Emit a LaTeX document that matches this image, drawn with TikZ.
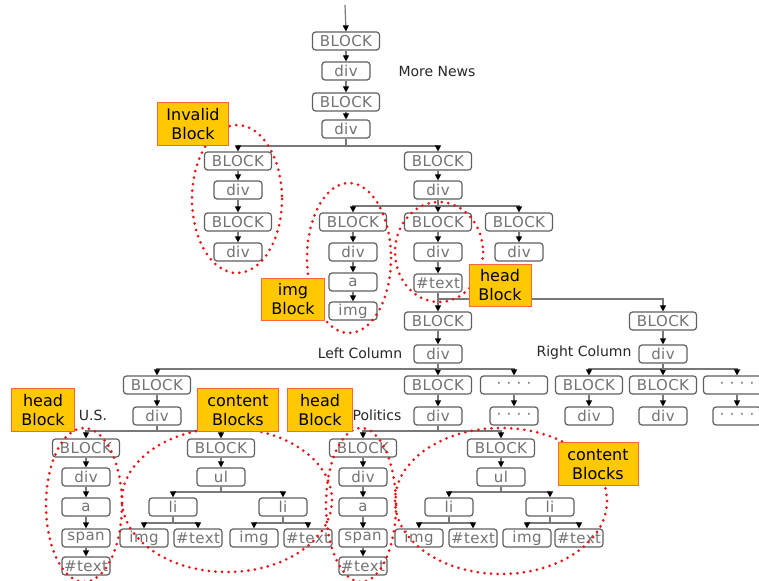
\documentclass[tikz,border=0pt]{standalone}
\usepackage{fontspec}
\usetikzlibrary{arrows.meta}
\newfontfamily\boxfont[LetterSpace=3]{DejaVu Sans}
\newfontfamily\labfont{DejaVu Sans}
\definecolor{boxline}{RGB}{95,95,95}
\definecolor{boxtext}{RGB}{115,115,115}
\definecolor{edgecol}{RGB}{120,120,120}
\definecolor{labfill}{RGB}{255,200,0}
\definecolor{labline}{RGB}{255,100,60}
\definecolor{dotred}{RGB}{235,20,20}
\tikzset{
  bx/.style={draw=boxline, line width=1.2pt, rounded corners=3pt, fill=white,
    minimum height=18pt, minimum width=48pt, inner sep=0pt, text=boxtext,
    font=\boxfont\fontsize{15}{16}\selectfont},
  bxw/.style={bx, minimum width=67pt},
  arr/.style={draw=edgecol, line width=1.2pt, -{Triangle[length=6pt,width=6pt,black]}},
  lab/.style={draw=labline, line width=1pt, fill=labfill, inner sep=0pt,
    align=center, font=\labfont\fontsize{16}{19}\selectfont, text=black},
  captxt/.style={font=\labfont\fontsize{14}{15}\selectfont, text=black!85},
  ring/.style={draw=dotred, line width=3pt, line cap=round, dash pattern=on 0pt off 6.6pt}
}
\begin{document}
\begin{tikzpicture}[x=1pt,y=-1pt]
\useasboundingbox (0,0) rectangle (759,580);
% ---------- top spine
\coordinate (top) at (345,5);
\node[bxw] (B1) at (346,41) {BLOCK};
\node[bx]  (d1) at (346,71) {div};
\node[bxw] (B2) at (346,102) {BLOCK};
\node[bx]  (d2) at (346,129) {div};
\node[captxt] (more) at (437,71) {More News};
% ---------- first split
\node[bxw] (L1) at (238,161) {BLOCK};
\node[bx]  (L2) at (238,190) {div};
\node[bxw] (L3) at (238,222) {BLOCK};
\node[bx]  (L4) at (238,252) {div};
\node[bxw] (R1) at (438,161) {BLOCK};
\node[bx]  (R2) at (438,190) {div};
% ---------- second split
\node[bxw] (C1) at (353,222) {BLOCK};
\node[bx]  (C1a) at (353,252) {div};
\node[bx]  (C1b) at (353,282) {a};
\node[bx]  (C1c) at (353,311) {img};
\node[bxw] (C2) at (438,222) {BLOCK};
\node[bx]  (C2a) at (438,252) {div};
\node[bx]  (C2b) at (438,283) {\#text};
\node[bxw] (C3) at (519,222) {BLOCK};
\node[bx]  (C3a) at (519,252) {div};
% ---------- columns
\node[bxw] (LC) at (438,321) {BLOCK};
\node[bx]  (LCd) at (438,354) {div};
\node[captxt] (lct) at (360,353) {Left Column};
\node[bxw] (RC) at (663,321) {BLOCK};
\node[bx]  (RCd) at (663,354) {div};
\node[captxt] (rct) at (584,353) {Right Column};
% ---------- left column children
\node[bxw] (US) at (157,385) {BLOCK};
\node[bx]  (USd) at (157,416) {div};
\node[captxt] (ust) at (93,415) {U.S.};
\node[bxw] (PO) at (438,385) {BLOCK};
\node[bx]  (POd) at (438,416) {div};
\node[captxt] (pot) at (377,415) {Politics};
\node[bxw] (DT) at (514,385) {· · · ·};
\node[bx]  (DT2) at (514,416) {· · · ·};
% ---------- right column children
\node[bxw] (RB1) at (589,385) {BLOCK};
\node[bx]  (RB1d) at (589,416) {div};
\node[bxw] (RB2) at (663,385) {BLOCK};
\node[bx]  (RB2d) at (663,416) {div};
\node[bxw] (RB3) at (737,385) {· · · ·};
\node[bx]  (RB3d) at (737,416) {· · · ·};
% ---------- U.S. section
\node[bxw] (UH) at (86,448) {BLOCK};
\node[bx]  (UH1) at (86,477) {div};
\node[bx]  (UH2) at (86,507) {a};
\node[bx]  (UH3) at (86,538) {span};
\node[bx]  (UH4) at (86,566) {\#text};
\node[bxw] (UC) at (221,448) {BLOCK};
\node[bx]  (UCul) at (221,477) {ul};
\node[bx]  (UCl1) at (173,507) {li};
\node[bx]  (UCl2) at (283,507) {li};
\node[bx]  (UCi1) at (144,538) {img};
\node[bx]  (UCt1) at (198,538) {\#text};
\node[bx]  (UCi2) at (254,538) {img};
\node[bx]  (UCt2) at (308,538) {\#text};
% ---------- Politics section
\node[bxw] (PH) at (363,448) {BLOCK};
\node[bx]  (PH1) at (363,477) {div};
\node[bx]  (PH2) at (363,507) {a};
\node[bx]  (PH3) at (363,538) {span};
\node[bx]  (PH4) at (363,566) {\#text};
\node[bxw] (PC) at (501,448) {BLOCK};
\node[bx]  (PCul) at (501,477) {ul};
\node[bx]  (PCl1) at (449,507) {li};
\node[bx]  (PCl2) at (550,507) {li};
\node[bx]  (PCi1) at (419,538) {img};
\node[bx]  (PCt1) at (473,538) {\#text};
\node[bx]  (PCi2) at (527,538) {img};
\node[bx]  (PCt2) at (579,538) {\#text};
% ---------- bus coordinates
\coordinate (y1) at (0,146);
\coordinate (y2) at (0,206);
\coordinate (y3) at (0,299);
\coordinate (y4) at (0,369);
\coordinate (y6) at (0,431);
\coordinate (y7) at (0,492);
\coordinate (y8) at (0,523);
% ---------- connectors
\draw[arr] (top) -- (B1.north);
\draw[arr] (B1) -- (d1);
\draw[arr] (d1) -- (B2);
\draw[arr] (B2) -- (d2);
\foreach \c in {L1,R1} \draw[arr] (d2.south) -- (d2.south|-y1) -| (\c.north);
\draw[arr] (L1) -- (L2);
\draw[arr] (L2) -- (L3);
\draw[arr] (L3) -- (L4);
\draw[arr] (R1) -- (R2);
\foreach \c in {C1,C2,C3} \draw[arr] (R2.south) -- (R2.south|-y2) -| (\c.north);
\draw[arr] (C1) -- (C1a);
\draw[arr] (C1a) -- (C1b);
\draw[arr] (C1b) -- (C1c);
\draw[arr] (C2) -- (C2a);
\draw[arr] (C2a) -- (C2b);
\draw[arr] (C3) -- (C3a);
\foreach \c in {LC,RC} \draw[arr] (C2b.south) -- (C2b.south|-y3) -| (\c.north);
\draw[arr] (LC) -- (LCd);
\draw[arr] (RC) -- (RCd);
\foreach \c in {US,PO,DT} \draw[arr] (LCd.south) -- (LCd.south|-y4) -| (\c.north);
\foreach \c in {RB1,RB2,RB3} \draw[arr] (RCd.south) -- (RCd.south|-y4) -| (\c.north);
\draw[arr] (US) -- (USd);
\draw[arr] (PO) -- (POd);
\draw[arr] (DT) -- (DT2);
\draw[arr] (RB1) -- (RB1d);
\draw[arr] (RB2) -- (RB2d);
\draw[arr] (RB3) -- (RB3d);
\foreach \c in {UH,UC} \draw[arr] (USd.south) -- (USd.south|-y6) -| (\c.north);
\draw[arr] (UH) -- (UH1);
\draw[arr] (UH1) -- (UH2);
\draw[arr] (UH2) -- (UH3);
\draw[arr] (UH3) -- (UH4);
\draw[arr] (UC) -- (UCul);
\foreach \c in {UCl1,UCl2} \draw[arr] (UCul.south) -- (UCul.south|-y7) -| (\c.north);
\foreach \c in {UCi1,UCt1} \draw[arr] (UCl1.south) -- (UCl1.south|-y8) -| (\c.north);
\foreach \c in {UCi2,UCt2} \draw[arr] (UCl2.south) -- (UCl2.south|-y8) -| (\c.north);
\foreach \c in {PH,PC} \draw[arr] (POd.south) -- (POd.south|-y6) -| (\c.north);
\draw[arr] (PH) -- (PH1);
\draw[arr] (PH1) -- (PH2);
\draw[arr] (PH2) -- (PH3);
\draw[arr] (PH3) -- (PH4);
\draw[arr] (PC) -- (PCul);
\foreach \c in {PCl1,PCl2} \draw[arr] (PCul.south) -- (PCul.south|-y7) -| (\c.north);
\foreach \c in {PCi1,PCt1} \draw[arr] (PCl1.south) -- (PCl1.south|-y8) -| (\c.north);
\foreach \c in {PCi2,PCt2} \draw[arr] (PCl2.south) -- (PCl2.south|-y8) -| (\c.north);
% ---------- dotted rings
\draw[ring] (237,199) ellipse [x radius=45, y radius=74];
\draw[ring] (349,258) ellipse [x radius=42, y radius=75];
\draw[ring] (439,252) ellipse [x radius=44, y radius=50];
\draw[ring] (84,505) ellipse [x radius=38, y radius=77];
\draw[ring] (227,500) ellipse [x radius=105, y radius=72];
\draw[ring] (361,505) ellipse [x radius=35, y radius=77];
\draw[ring] (501,501) ellipse [x radius=106, y radius=73];
% ---------- labels
\node[lab, minimum width=71pt, minimum height=43pt] (lInv) at (193,124) {Invalid\\Block};
\node[lab, minimum width=63pt, minimum height=42pt] (lImg) at (293,299) {img\\Block};
\node[lab, minimum width=62pt, minimum height=42pt] (lHd1) at (500,285) {head\\Block};
\node[lab, minimum width=63pt, minimum height=43pt] (lHd2) at (43,410) {head\\Block};
\node[lab, minimum width=81pt, minimum height=43pt] (lCt1) at (238,410) {content\\Blocks};
\node[lab, minimum width=65pt, minimum height=43pt] (lHd3) at (320,410) {head\\Block};
\node[lab, minimum width=80pt, minimum height=43pt] (lCt2) at (598,464) {content\\Blocks};
\end{tikzpicture}
\end{document}
